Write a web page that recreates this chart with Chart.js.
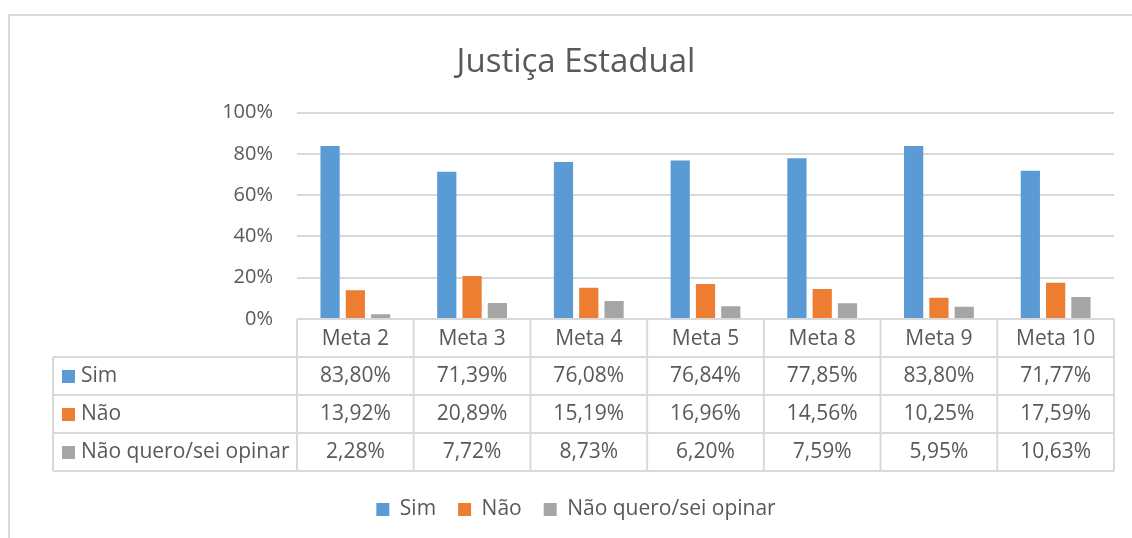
<!DOCTYPE html>
<html>
<head>
    <title>Justiça Estadual</title>
    <script src="https://cdn.jsdelivr.net/npm/chart.js"></script>
    <style>
        body { margin: 0; background: #fff; }
        #wrap { width: 1132px; height: 538px; position: relative; }
    </style>
</head>
<body>
    <div id="wrap"><canvas id="myChart"></canvas></div>

    <script>
        var metas = ['Meta 2', 'Meta 3', 'Meta 4', 'Meta 5', 'Meta 8', 'Meta 9', 'Meta 10'];
        var sim = [83.80, 71.39, 76.08, 76.84, 77.85, 83.80, 71.77];
        var nao = [13.92, 20.89, 15.19, 16.96, 14.56, 10.25, 17.59];
        var naoSei = [2.28, 7.72, 8.73, 6.20, 7.59, 5.95, 10.63];
        var seriesNames = ['Sim', 'Não', 'Não quero/sei opinar'];
        var colors = ['#5B9BD5', '#ED7D31', '#A5A5A5'];

        var txt = '#595959';
        var line = '#D9D9D9';
        var font = '"Open Sans", sans-serif';

        function fmt(v) {
            return v.toFixed(2).replace('.', ',') + '%';
        }

        // outer frame + data table under the plot
        var tablePlugin = {
            id: 'dataTable',
            beforeDraw: function(chart) {
                var c = chart.ctx;
                c.save();
                c.strokeStyle = line;
                c.lineWidth = 2;
                c.strokeRect(9, 15, 1300, 700);
                c.restore();
            },
            afterDraw: function(chart) {
                var c = chart.ctx;
                var x = chart.scales.x;
                var top = chart.chartArea.bottom;
                var rowH = 38;
                var colW = (x.right - x.left) / metas.length;
                var leftX = 53;
                var rows = [sim, nao, naoSei];
                var bottom = top + rowH * 4;

                c.save();
                c.strokeStyle = line;
                c.lineWidth = 2;
                c.beginPath();
                for (var i = 0; i <= metas.length; i++) {
                    var lx = x.left + i * colW;
                    c.moveTo(lx, top);
                    c.lineTo(lx, bottom);
                }
                c.moveTo(leftX, top + rowH);
                c.lineTo(leftX, bottom);
                for (var r = 1; r <= 4; r++) {
                    c.moveTo(leftX, top + r * rowH);
                    c.lineTo(x.right, top + r * rowH);
                }
                c.stroke();

                c.font = '21px ' + font;
                c.textBaseline = 'middle';
                for (var r = 0; r < rows.length; r++) {
                    var cy = top + rowH * (r + 1) + rowH / 2;
                    c.fillStyle = colors[r];
                    c.fillRect(62, cy - 6, 13, 13);
                    c.fillStyle = txt;
                    c.textAlign = 'left';
                    c.fillText(seriesNames[r], 81, cy);
                    c.textAlign = 'center';
                    for (var i = 0; i < metas.length; i++) {
                        c.fillText(fmt(rows[r][i]), x.getPixelForValue(i), cy);
                    }
                }
                c.restore();
            }
        };

        var ctx = document.getElementById('myChart').getContext('2d');
        var myChart = new Chart(ctx, {
            type: 'bar',
            data: {
                labels: metas,
                datasets: [
                    { label: seriesNames[0], data: sim, backgroundColor: colors[0] },
                    { label: seriesNames[1], data: nao, backgroundColor: colors[1] },
                    { label: seriesNames[2], data: naoSei, backgroundColor: colors[2] }
                ]
            },
            options: {
                responsive: true,
                maintainAspectRatio: false,
                animation: false,
                categoryPercentage: 0.65,
                barPercentage: 0.76,
                layout: { padding: { left: 38, right: 18, top: 0, bottom: 8 } },
                plugins: {
                    title: {
                        display: true,
                        text: 'Justiça Estadual',
                        color: txt,
                        font: { family: font, size: 33, weight: 'normal' },
                        padding: { top: 43, bottom: 30 }
                    },
                    legend: {
                        position: 'bottom',
                        labels: {
                            color: txt,
                            font: { family: font, size: 21 },
                            boxWidth: 13,
                            boxHeight: 13,
                            padding: 22
                        }
                    },
                    tooltip: { enabled: false }
                },
                scales: {
                    x: {
                        grid: { display: false, drawTicks: false },
                        border: { display: false },
                        ticks: {
                            color: txt,
                            font: { family: font, size: 21 },
                            padding: 7,
                            maxRotation: 0
                        },
                        afterFit: function(scale) { scale.height = 158; }
                    },
                    y: {
                        min: 0,
                        max: 100,
                        grid: { color: line, lineWidth: 2, drawTicks: false },
                        border: { display: false },
                        ticks: {
                            stepSize: 20,
                            color: txt,
                            font: { family: font, size: 20 },
                            padding: 24,
                            callback: function(v) { return v + '%'; }
                        },
                        afterFit: function(scale) { scale.width = 259; }
                    }
                }
            },
            plugins: [tablePlugin]
        });
    </script>
</body>
</html>
